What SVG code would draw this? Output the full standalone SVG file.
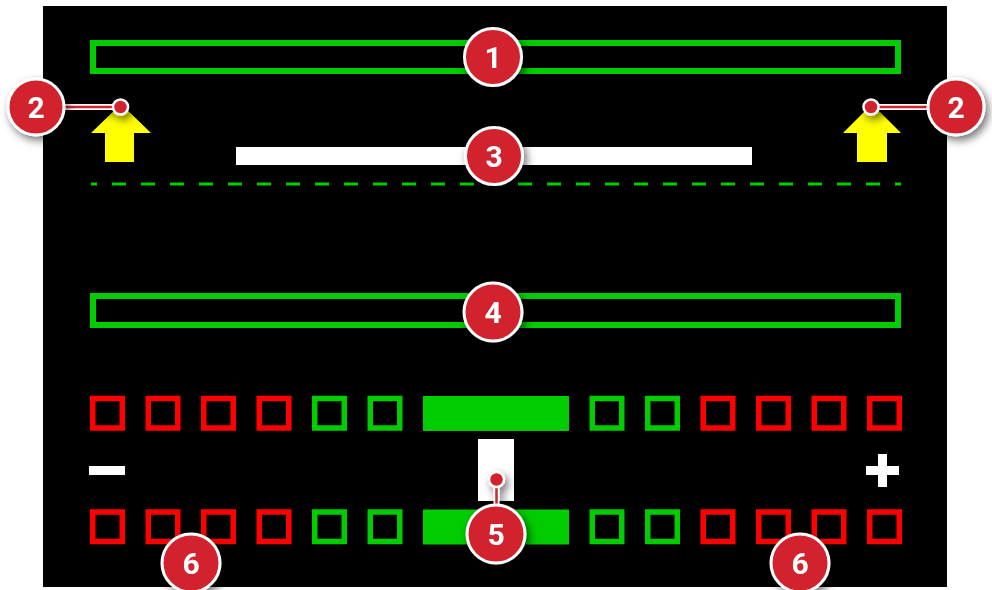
<svg xmlns="http://www.w3.org/2000/svg" width="992" height="590" viewBox="0 0 992 590">
<defs>
<style>
.g{fill:none;stroke:#00cc00;stroke-width:6}
.rs{fill:none;stroke:#ff0000;stroke-width:5.5}
.gs{fill:none;stroke:#00cc00;stroke-width:5.5}
.w{fill:#ffffff}
.y{fill:#ffff00}
.b circle{fill:#d2232e;stroke:#ffffff;stroke-width:3}
.b text{fill:#ffffff;font-family:Roboto,"Liberation Sans",Arial,sans-serif;font-weight:bold;font-size:30px;text-anchor:middle}
.lo{stroke:#ffffff;stroke-width:6;fill:none}
.li{stroke:#d2232e;stroke-width:2.5;fill:none}
.dot{fill:#d2232e;stroke:#ffffff;stroke-width:2.5}
</style>
<filter id="sh" x="-50%" y="-50%" width="200%" height="200%">
<feDropShadow dx="3" dy="4" stdDeviation="4" flood-color="#000" flood-opacity="0.55"/>
</filter>
</defs>
<rect x="0" y="0" width="992" height="590" fill="#ffffff"/>
<rect x="43" y="6" width="904" height="581" fill="#000000"/>

<g id="bar1"><rect class="g" x="93" y="43" width="805" height="28"/></g>
<g id="arrowL"><polygon class="y" points="91,133 121,104 151,133 134,133 134,162 105,162 105,133"/></g>
<g id="arrowR"><polygon class="y" points="843,133 872,104 901,133 887,133 887,162 857,162 857,133"/></g>
<g id="bar3"><rect class="w" x="236" y="147" width="516" height="18"/></g>
<g id="dashline"><line x1="91" y1="184" x2="901" y2="184" stroke="#00cc00" stroke-width="3" stroke-dasharray="14 15" stroke-dashoffset="8"/></g>
<g id="bar4"><rect class="g" x="93" y="296" width="805" height="29"/></g>

<g id="topRow">
<rect class="rs" x="92.75" y="398.5" width="29.5" height="29.5"/>
<rect class="rs" x="148.25" y="398.5" width="29.5" height="29.5"/>
<rect class="rs" x="203.75" y="398.5" width="29.5" height="29.5"/>
<rect class="rs" x="259.25" y="398.5" width="29.5" height="29.5"/>
<rect class="gs" x="314.75" y="398.5" width="29.5" height="29.5"/>
<rect class="gs" x="370.25" y="398.5" width="29.5" height="29.5"/>
<rect x="423" y="396" width="146" height="35" fill="#00cc00"/>
<rect class="gs" x="592.25" y="398.5" width="29.5" height="29.5"/>
<rect class="gs" x="647.75" y="398.5" width="29.5" height="29.5"/>
<rect class="rs" x="703.25" y="398.5" width="29.5" height="29.5"/>
<rect class="rs" x="758.75" y="398.5" width="29.5" height="29.5"/>
<rect class="rs" x="814.25" y="398.5" width="29.5" height="29.5"/>
<rect class="rs" x="869.75" y="398.5" width="29.5" height="29.5"/>
</g>
<g id="bottomRow">
<rect class="rs" x="92.75" y="512" width="29.5" height="29.5"/>
<rect class="rs" x="148.25" y="512" width="29.5" height="29.5"/>
<rect class="rs" x="203.75" y="512" width="29.5" height="29.5"/>
<rect class="rs" x="259.25" y="512" width="29.5" height="29.5"/>
<rect class="gs" x="314.75" y="512" width="29.5" height="29.5"/>
<rect class="gs" x="370.25" y="512" width="29.5" height="29.5"/>
<rect x="423" y="509.5" width="146" height="35" fill="#00cc00"/>
<rect class="gs" x="592.25" y="512" width="29.5" height="29.5"/>
<rect class="gs" x="647.75" y="512" width="29.5" height="29.5"/>
<rect class="rs" x="703.25" y="512" width="29.5" height="29.5"/>
<rect class="rs" x="758.75" y="512" width="29.5" height="29.5"/>
<rect class="rs" x="814.25" y="512" width="29.5" height="29.5"/>
<rect class="rs" x="869.75" y="512" width="29.5" height="29.5"/>
</g>
<g id="minus"><rect class="w" x="89" y="466" width="36" height="9"/></g>
<g id="plus"><rect class="w" x="866" y="466" width="33" height="9"/><rect class="w" x="878" y="454" width="9" height="33"/></g>
<g id="slider"><rect class="w" x="478" y="439" width="36" height="62"/></g>

<g id="connectors" filter="url(#sh)">
<line class="lo" x1="60" y1="107" x2="120" y2="107"/>
<line class="li" x1="60" y1="107" x2="120" y2="107"/>
<circle class="dot" cx="120.5" cy="107" r="7.5"/>
<line class="lo" x1="871" y1="107" x2="930" y2="107"/>
<line class="li" x1="871" y1="107" x2="930" y2="107"/>
<circle class="dot" cx="871" cy="107" r="7.5"/>
<line class="lo" x1="496.5" y1="479" x2="496.5" y2="510"/>
<line class="li" x1="496.5" y1="479" x2="496.5" y2="510"/>
<circle class="dot" cx="496.5" cy="479.5" r="7.5"/>
</g>

<g id="badge1" class="b" filter="url(#sh)"><circle cx="493" cy="57" r="28.5"/><text x="493" y="68">1</text></g>
<g id="badge2L" class="b" filter="url(#sh)"><circle cx="36" cy="107" r="28"/><text x="36" y="118">2</text></g>
<g id="badge2R" class="b" filter="url(#sh)"><circle cx="956" cy="107" r="28"/><text x="956" y="118">2</text></g>
<g id="badge3" class="b" filter="url(#sh)"><circle cx="494" cy="156" r="28.5"/><text x="494" y="167">3</text></g>
<g id="badge4" class="b" filter="url(#sh)"><circle cx="493" cy="312" r="29"/><text x="493" y="323">4</text></g>
<g id="badge5" class="b" filter="url(#sh)"><circle cx="496" cy="534" r="29"/><text x="496" y="545">5</text></g>
<g id="badge6L" class="b" filter="url(#sh)"><circle cx="191" cy="563" r="29"/><text x="191" y="574">6</text></g>
<g id="badge6R" class="b" filter="url(#sh)"><circle cx="800" cy="563" r="29"/><text x="800" y="574">6</text></g>
</svg>
